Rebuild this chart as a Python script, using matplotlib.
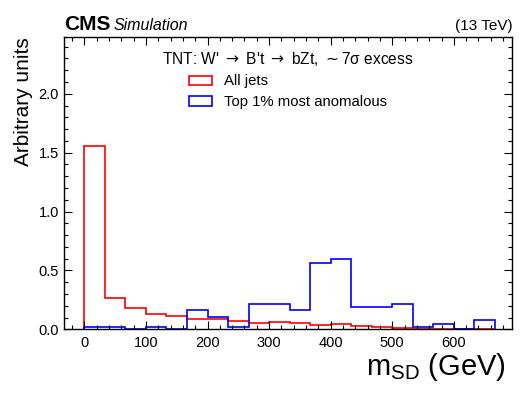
import numpy as np
import matplotlib
matplotlib.use("Agg")
import matplotlib.pyplot as plt
from matplotlib.patches import Patch
from matplotlib.ticker import MultipleLocator

plt.rcParams['font.family'] = ['Liberation Sans', 'DejaVu Sans']

# 20 bins of soft-drop mass, 0 - 666.7 GeV
edges = np.linspace(0, 2000 / 3, 21)
all_jets = [1.56, 0.27, 0.182, 0.126, 0.115, 0.09, 0.087, 0.07, 0.05, 0.064,
            0.056, 0.036, 0.047, 0.027, 0.016, 0.008, 0.005, 0.004, 0.002, 0.001]
top_anom = [0.02, 0.02, 0.0, 0.02, 0.0, 0.16, 0.104, 0.02, 0.216, 0.216,
            0.16, 0.564, 0.594, 0.188, 0.188, 0.216, 0.02, 0.047, 0.0, 0.079]

legend_title = "TNT: W' $\\rightarrow$ B't $\\rightarrow$ bZt, $\\sim$7\u03c3 excess"
labels = ["All jets", "Top 1% most anomalous"]

fig = plt.figure(figsize=(5.32, 3.99), dpi=100)
ax = fig.add_axes([0.120, 0.1747, 0.843, 0.7318])

ax.stairs(all_jets, edges, baseline=0, color='red', lw=1.2)
ax.stairs(top_anom, edges, baseline=0, color='blue', lw=1.2)

ax.set_xlim(-100 / 3, 695)
ax.set_ylim(0, 2.48)

ax.xaxis.set_major_locator(MultipleLocator(100))
ax.xaxis.set_minor_locator(MultipleLocator(20))
ax.yaxis.set_major_locator(MultipleLocator(0.5))
ax.yaxis.set_minor_locator(MultipleLocator(0.1))
ax.tick_params(which='both', direction='in', top=True, right=True, labelsize=10.5)
ax.tick_params(axis='x', pad=5)
ax.tick_params(which='major', length=6, width=0.8)
ax.tick_params(which='minor', length=3, width=0.8)
ax.yaxis.set_major_formatter(matplotlib.ticker.FormatStrFormatter('%.1f'))
for s in ax.spines.values():
    s.set_linewidth(1.0)

ax.set_ylabel("Arbitrary units", fontsize=15, loc='top', labelpad=4)
ax.set_xlabel("m$_{\\mathregular{SD}}$ (GeV)", fontsize=21, loc='right', labelpad=0)
ax.xaxis.set_label_coords(0.985, -0.075)
ax.xaxis.label.set_va('top')

fig.text(0.120, 0.925, "CMS", fontsize=15, fontweight='bold', ha='left', va='baseline')
fig.text(0.213, 0.925, "Simulation", fontsize=11.5, style='italic', ha='left', va='baseline')
fig.text(0.963, 0.925, "(13 TeV)", fontsize=11, ha='right', va='baseline')

handles = [Patch(facecolor='none', edgecolor='red', lw=1.2),
           Patch(facecolor='none', edgecolor='blue', lw=1.2)]
leg = ax.legend(handles, labels, title=legend_title, loc='upper center',
                bbox_to_anchor=(0.5, 1.003), frameon=False, fontsize=10.7,
                title_fontsize=11.2, handlelength=1.55, handleheight=0.6,
                labelspacing=0.45, handletextpad=0.8)

fig.savefig("out.png", dpi=100)
